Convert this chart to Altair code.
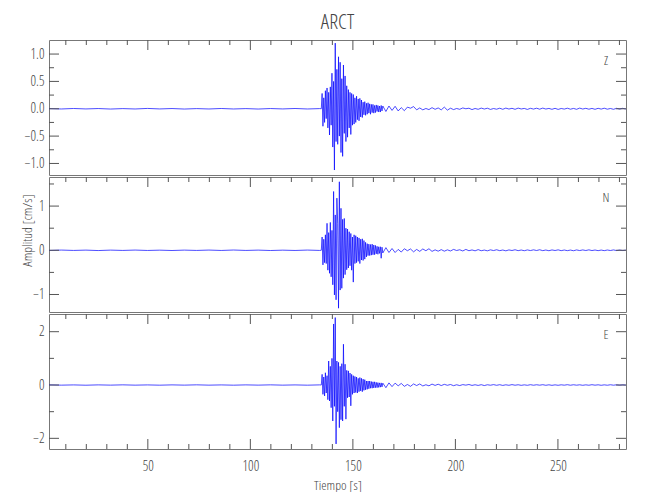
import altair as alt
import numpy as np
import pandas as pd

# ---------------- text ----------------
STATION = "ARCT"
X_TITLE = "Tiempo [s]"
Y_TITLE = "Amplitud [cm/s]"
COMPONENTS = ["Z", "N", "E"]

# ---------------- axes ----------------
X_DOMAIN = [1.8, 283.2]
Y_DOMAINS = {"Z": [-1.211, 1.257], "N": [-1.396, 1.658], "E": [-2.40, 2.664]}
X_MAJOR = [50, 100, 150, 200, 250]
X_MINOR = [10, 20, 30, 40, 60, 70, 80, 90, 110, 120, 130, 140, 160, 170,
           180, 190, 210, 220, 230, 240, 260, 270, 280]
Y_MAJOR = {"Z": [-1.0, -0.5, 0.0, 0.5, 1.0], "N": [-1, 0, 1], "E": [-2, 0, 2]}
Y_MINOR = {"Z": [-0.75, -0.25, 0.25, 0.75], "N": [-0.5, 0.5, 1.5], "E": [-1, 1]}
Y_FORMAT = {"Z": ".1f", "N": "d", "E": "d"}

# ---------------- sampling instants (s) ----------------
T_PRE = np.round(1.8 + 6.0 * np.arange(23), 2)      # quiet record before onset
T_DENSE = np.round(134.6 + 0.4 * np.arange(76), 2)  # strong motion
T_CODA = np.round(166.1 + 1.5 * np.arange(79), 2)   # coda

# ---------------- amplitudes (cm/s) ----------------
Z_PRE = [0.003, -0.004, 0.005, -0.003, 0.004, -0.005, 0.003, -0.004, 0.006, -0.003,
         0.004, -0.005, 0.003, -0.004, 0.005, -0.004, 0.003, -0.005, 0.004, -0.003,
         0.005, -0.004, 0.003]
Z_DENSE = [0.00, 0.28, -0.32, 0.20, -0.25, 0.33, -0.18, 0.38, -0.35, 0.30,
           -0.48, 0.40, -0.30, 0.65, -0.70, 0.50, -1.12, 1.20, -0.60, 0.72,
           -0.65, 0.95, -0.50, 0.85, -0.80, 0.55, -0.87, 0.80, -0.45, 0.60,
           -0.60, 0.42, -0.52, 0.35, -0.35, 0.30, -0.47, 0.28, -0.30, 0.26,
           -0.28, 0.20, -0.25, 0.23, -0.20, 0.18, -0.22, 0.19, -0.15, 0.16,
           -0.16, 0.12, -0.11, 0.13, -0.12, 0.10, -0.10, 0.11, -0.08, 0.09,
           -0.10, 0.08, -0.07, 0.08, -0.08, 0.06, -0.07, 0.07, -0.05, 0.06,
           -0.06, 0.05, -0.06, 0.06, -0.04, 0.05]
Z_CODA = [-0.05, 0.05, -0.03, 0.045, -0.04, 0.02, -0.035, 0.03, 0.01, 0.04,
          -0.02, 0.015, -0.02, 0.005, -0.015, 0.02, -0.01, 0.015, -0.02, 0.03,
          -0.025, 0.01, -0.015, 0.005, -0.01, 0.015, 0.0, 0.01, -0.015, 0.005,
          -0.01, 0.012, -0.005, 0.01, -0.012, 0.004, -0.008, 0.01, -0.01, 0.012,
          -0.005, 0.008, -0.01, 0.012, -0.004, 0.006, -0.012, 0.008, -0.006, 0.01,
          -0.008, 0.012, -0.005, 0.006, -0.01, 0.008, -0.012, 0.005, -0.006, 0.01,
          -0.008, 0.006, -0.01, 0.012, -0.005, 0.008, -0.008, 0.006, -0.01, 0.008,
          -0.006, 0.01, -0.008, 0.005, -0.01, 0.008, -0.006, 0.008, -0.005]

N_PRE = [-0.004, 0.005, -0.003, 0.004, -0.006, 0.004, -0.003, 0.005, -0.004, 0.003,
         -0.005, 0.004, -0.003, 0.005, -0.004, 0.006, -0.003, 0.004, -0.005, 0.003,
         -0.004, 0.005, -0.003]
N_DENSE = [0.00, 0.30, -0.33, 0.25, -0.28, 0.35, -0.30, 0.61, -0.45, 0.40,
           -0.52, 0.63, -0.60, 0.45, -0.78, 1.33, -1.01, 0.80, -1.12, 1.18,
           0.60, -1.31, 1.55, -0.90, 0.95, -0.86, 0.70, -0.63, 0.72, -0.55,
           0.50, -0.44, 0.48, -0.40, 0.42, -0.35, 0.38, -0.45, 0.30, -0.72,
           0.35, -0.30, 0.33, -0.28, 0.30, -0.25, 0.28, -0.30, 0.25, -0.22,
           0.26, -0.23, 0.22, -0.20, 0.18, -0.15, 0.15, -0.12, 0.14, -0.12,
           0.13, -0.11, 0.14, -0.10, 0.12, -0.10, 0.11, -0.08, 0.09, -0.09,
           0.08, -0.07, 0.08, -0.18, 0.07, -0.06]
N_CODA = [0.06, -0.05, 0.04, -0.05, 0.02, -0.04, 0.035, -0.01, 0.03, -0.035,
          0.02, -0.025, 0.03, -0.01, 0.035, -0.025, 0.01, -0.02, 0.015, -0.02,
          0.01, -0.015, 0.02, -0.005, 0.012, -0.015, 0.02, -0.01, 0.008, -0.012,
          0.015, -0.01, 0.005, -0.012, 0.01, -0.006, 0.012, -0.008, 0.006, -0.012,
          0.008, -0.005, 0.012, -0.008, 0.006, -0.01, 0.008, -0.006, 0.01, -0.005,
          0.012, -0.008, 0.006, -0.01, 0.008, -0.005, 0.01, -0.008, 0.006, -0.008,
          0.005, -0.01, 0.008, -0.006, 0.008, -0.005, 0.01, -0.006, 0.006, -0.008,
          0.005, -0.008, 0.006, -0.005, 0.008, -0.006, 0.005, -0.006, 0.004]

E_PRE = [0.006, -0.005, 0.004, -0.007, 0.005, -0.004, 0.006, -0.005, 0.004, -0.006,
         0.005, -0.004, 0.007, -0.005, 0.004, -0.006, 0.005, -0.004, 0.006, -0.005,
         0.004, -0.006, 0.005]
E_DENSE = [0.00, 0.40, -0.35, 0.30, -0.41, 0.46, -0.30, 0.35, -0.55, 0.90,
           -0.60, 0.70, -0.85, 1.00, -1.35, 2.29, -0.80, 2.53, -2.21, 0.90,
           -1.00, 0.85, -1.60, 0.70, -1.30, 0.80, -1.35, 1.53, -0.80, 0.78,
           -1.28, 0.55, -0.48, 0.53, -0.45, 0.45, -0.78, 0.40, -0.35, 0.35,
           -0.30, 0.32, -0.28, 0.30, -0.30, 0.25, -0.25, 0.28, -0.22, 0.25,
           -0.25, 0.22, -0.20, 0.20, -0.18, 0.15, -0.16, 0.15, -0.14, 0.15,
           -0.12, 0.13, -0.12, 0.12, -0.11, 0.12, -0.10, 0.10, -0.10, 0.09,
           -0.09, 0.08, -0.08, 0.08, -0.07, 0.07]
E_CODA = [-0.10, 0.08, -0.06, 0.07, -0.03, 0.06, -0.05, 0.02, -0.05, 0.04,
          -0.02, 0.04, -0.035, 0.01, -0.03, 0.035, -0.015, 0.03, -0.02, 0.025,
          -0.01, 0.02, -0.025, 0.01, -0.02, 0.015, -0.005, 0.02, -0.015, 0.01,
          -0.015, 0.012, -0.02, 0.01, -0.008, 0.015, -0.01, 0.012, -0.015, 0.008,
          -0.01, 0.015, -0.008, 0.01, -0.012, 0.006, -0.01, 0.012, -0.008, 0.01,
          -0.006, 0.012, -0.01, 0.008, -0.012, 0.006, -0.01, 0.008, -0.006, 0.012,
          -0.008, 0.01, -0.006, 0.008, -0.01, 0.006, -0.008, 0.012, -0.006, 0.008,
          -0.01, 0.006, -0.008, 0.01, -0.006, 0.008, -0.006, 0.008, -0.005]

TRACES = {
    "Z": Z_PRE + Z_DENSE + Z_CODA,
    "N": N_PRE + N_DENSE + N_CODA,
    "E": E_PRE + E_DENSE + E_CODA,
}
T_ALL = np.concatenate([T_PRE, T_DENSE, T_CODA])

# ---------------- style ----------------
FONT = "Open Sans Condensed Light, DejaVu Sans Condensed, sans-serif"
TEXT_C = "#444444"
TICK_C = "#555555"
FRAME_C = "#777777"
TRACE_C = "#0000ff"
W, H = 577, 135
MAJ, MIN = 10, 5


def panel(comp, top_panel, mid_panel, bottom_panel):
    xs = alt.Scale(domain=X_DOMAIN, nice=False, zero=False)
    ys = alt.Scale(domain=Y_DOMAINS[comp], nice=False, zero=False)

    if bottom_panel:
        xaxis = alt.Axis(values=X_MAJOR, format="d", ticks=False, tickSize=0,
                         domain=False, grid=False, labelPadding=10,
                         title=X_TITLE, titlePadding=5)
    else:
        xaxis = None
    if mid_panel:
        yaxis = alt.Axis(values=Y_MAJOR[comp], format=Y_FORMAT[comp], ticks=False,
                         tickSize=0, domain=False, grid=False, labelPadding=5,
                         title=Y_TITLE, titlePadding=-2, titleY=53)
    else:
        yaxis = alt.Axis(values=Y_MAJOR[comp], format=Y_FORMAT[comp], ticks=False,
                         tickSize=0, domain=False, grid=False, labelPadding=5,
                         title="")

    df = pd.DataFrame({"t": T_ALL, "a": TRACES[comp]})
    line = alt.Chart(df).mark_line(color=TRACE_C, strokeWidth=0.7, clip=True).encode(
        x=alt.X("t:Q", scale=xs, axis=xaxis),
        y=alt.Y("a:Q", scale=ys, axis=yaxis),
    )

    layers = [line]

    def xt(vals, y0, y1):
        return alt.Chart(pd.DataFrame({"t": vals})).mark_rule(
            color=TICK_C, strokeWidth=1).encode(
            x=alt.X("t:Q", scale=xs, axis=xaxis),
            y=alt.value(y0), y2=alt.value(y1))

    def yt(vals, x0, x1):
        return alt.Chart(pd.DataFrame({"a": vals})).mark_rule(
            color=TICK_C, strokeWidth=1).encode(
            y=alt.Y("a:Q", scale=ys, axis=yaxis),
            x=alt.value(x0), x2=alt.value(x1))

    layers += [xt(X_MINOR, 0, MIN), xt(X_MAJOR, 0, MAJ)]
    if bottom_panel:
        layers += [xt(X_MINOR, H, H - MIN), xt(X_MAJOR, H, H - MAJ)]
    layers += [yt(Y_MINOR[comp], 0, MIN), yt(Y_MAJOR[comp], 0, MAJ),
               yt(Y_MINOR[comp], W, W - MIN), yt(Y_MAJOR[comp], W, W - MAJ)]

    lab = alt.Chart(pd.DataFrame({"c": [comp]})).mark_text(
        font=FONT, fontSize=13, color=TEXT_C, align="center", baseline="middle"
    ).encode(text="c:N", x=alt.value(557), y=alt.value(21))
    layers.append(lab)

    ch = alt.layer(*layers).properties(width=W, height=H)
    if top_panel:
        ch = ch.properties(title=alt.TitleParams(
            STATION, font=FONT, fontSize=21, fontWeight="normal", color=TEXT_C,
            anchor="middle", frame="group", offset=7))
    return ch


panels = [panel(c, i == 0, i == 1, i == 2) for i, c in enumerate(COMPONENTS)]

chart = alt.vconcat(*panels, spacing=0).properties(
    padding={"left": 12, "top": 3, "right": 5, "bottom": 0}
).configure_view(
    stroke=FRAME_C, strokeWidth=1
).configure_axis(
    labelFont=FONT, titleFont=FONT, labelFontSize=14, titleFontSize=13.5,
    labelFontWeight="normal", titleFontWeight="normal",
    labelColor=TEXT_C, titleColor=TEXT_C
)

chart.save("out.html", embed_options={"renderer": "svg", "actions": False})
